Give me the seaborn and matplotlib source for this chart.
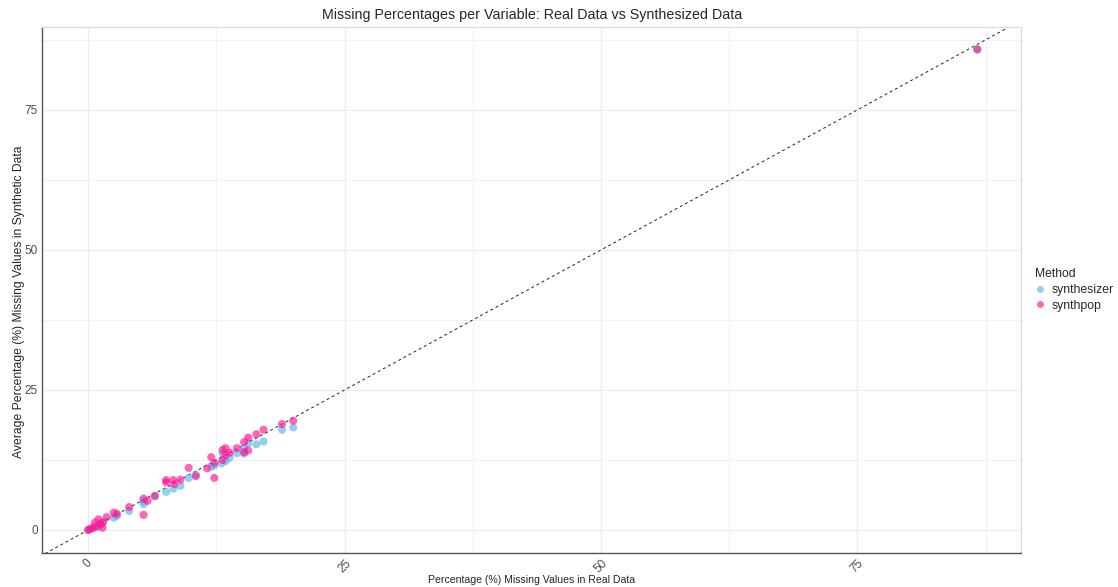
import matplotlib
matplotlib.use("Agg")
import matplotlib.pyplot as plt
import numpy as np
import pandas as pd
import seaborn as sns

# values
synthesizer_real = [0.0, 0.7, 1.0, 1.5, 2.5, 2.8, 4.0, 5.4, 5.4, 6.5, 7.6, 8.3, 9.0, 9.8,
                    10.5, 12.0, 12.3, 13.0, 13.4, 13.8, 13.1, 14.5, 15.2, 15.2, 15.6,
                    16.4, 17.1, 18.9, 20.0, 86.7]
synthesizer_syn = [0.0, 0.4, 0.6, 1.5, 2.2, 2.5, 3.4, 4.6, 5.1, 6.0, 6.8, 7.4, 7.9, 9.3,
                   9.9, 11.3, 11.5, 11.9, 12.3, 12.9, 13.7, 13.7, 13.6, 14.6, 15.5,
                   15.3, 15.8, 17.9, 18.3, 85.8]
synthpop_real = [0.0, 0.2, 0.4, 0.7, 1.0, 0.65, 1.4, 1.4, 1.2, 1.8, 2.5, 2.8, 4.0, 5.4,
                 5.4, 5.8, 6.5, 7.6, 7.6, 8.3, 8.4, 9.0, 9.8, 10.5, 11.6, 12.0, 12.3,
                 12.3, 13.1, 13.4, 13.1, 13.4, 13.8, 14.5, 15.2, 15.2, 15.6, 15.6,
                 16.4, 17.1, 18.9, 20.0, 86.7]
synthpop_syn = [0.0, 0.2, 0.3, 0.6, 1.9, 1.3, 1.3, 0.4, 1.0, 2.3, 3.1, 2.9, 4.1, 5.6,
                2.7, 5.2, 6.1, 8.9, 8.5, 8.9, 8.2, 9.0, 11.1, 9.6, 11.0, 13.0, 9.3,
                12.0, 14.3, 14.6, 12.5, 13.4, 13.8, 14.6, 15.7, 13.9, 14.2, 16.5,
                17.1, 17.9, 18.9, 19.5, 85.8]
methods = ["synthesizer", "synthpop"]
ticks = [0, 25, 50, 75]

df = pd.DataFrame({
    "real": synthesizer_real + synthpop_real,
    "syn": synthesizer_syn + synthpop_syn,
    "Method": ["synthesizer"] * len(synthesizer_real) + ["synthpop"] * len(synthpop_real),
})

sns.set_theme(style="white")
plt.rcParams["font.family"] = ["Liberation Sans", "DejaVu Sans"]

fig = plt.figure(figsize=(11.18, 5.87), dpi=100)
ax = fig.add_axes([0.0376, 0.058, 0.876, 0.896])

# grid (major + minor like ggplot)
for v in np.arange(-12.5, 100, 12.5):
    ax.axvline(v, color="#ebebeb", lw=0.8 if v % 25 == 0 else 0.5, zorder=0)
    ax.axhline(v, color="#ebebeb", lw=0.8 if v % 25 == 0 else 0.5, zorder=0)

lims = np.array([-10, 100])
ax.plot(lims, lims, ls=(0, (3, 3)), color="#222222", lw=0.7, zorder=1)

sns.scatterplot(data=df, x="real", y="syn", hue="Method", hue_order=methods,
                palette={"synthesizer": "#56B4E9", "synthpop": "#FF1493"},
                alpha=0.65, s=34, edgecolor="none", ax=ax, zorder=2)

ax.set_xlim(-4.5, 91.0)
ax.set_ylim(-4.1, 89.8)
ax.set_xticks(ticks)
ax.set_yticks(ticks)
ax.set_xticklabels([str(t) for t in ticks], rotation=45, ha="center", va="top",
                   color="#4d4d4d", fontsize=8.5)
ax.set_yticklabels([str(t) for t in ticks], color="#4d4d4d", fontsize=8.5)
ax.tick_params(axis="both", length=3, color="#333333", width=0.6, pad=0)

for side in ["top", "right"]:
    ax.spines[side].set_color("#d9d9d9")
    ax.spines[side].set_linewidth(0.8)
for side in ["left", "bottom"]:
    ax.spines[side].set_color("#555555")
    ax.spines[side].set_linewidth(1.0)

ax.set_xlabel("Percentage (%) Missing Values in Real Data", fontsize=7.6)
ax.xaxis.set_label_coords(0.5, -0.041)
ax.set_ylabel("Average Percentage (%) Missing Values in Synthetic Data", fontsize=8.7)
ax.yaxis.set_label_coords(-0.017, 0.477)
ax.set_title("Missing Percentages per Variable: Real Data vs Synthesized Data", fontsize=10.3, pad=6)

leg = ax.legend(title="Method", loc="center left", bbox_to_anchor=(1.0143, 0.5),
                frameon=False, fontsize=8.8, title_fontsize=8.7,
                handletextpad=0.5, borderpad=0, labelspacing=0.3, handlelength=0.8,
                borderaxespad=0)
leg._legend_box.align = "left"
for h in leg.legend_handles:
    h.set_alpha(0.65)
    h.set_markersize(5)

fig.savefig("out.png", dpi=100)
